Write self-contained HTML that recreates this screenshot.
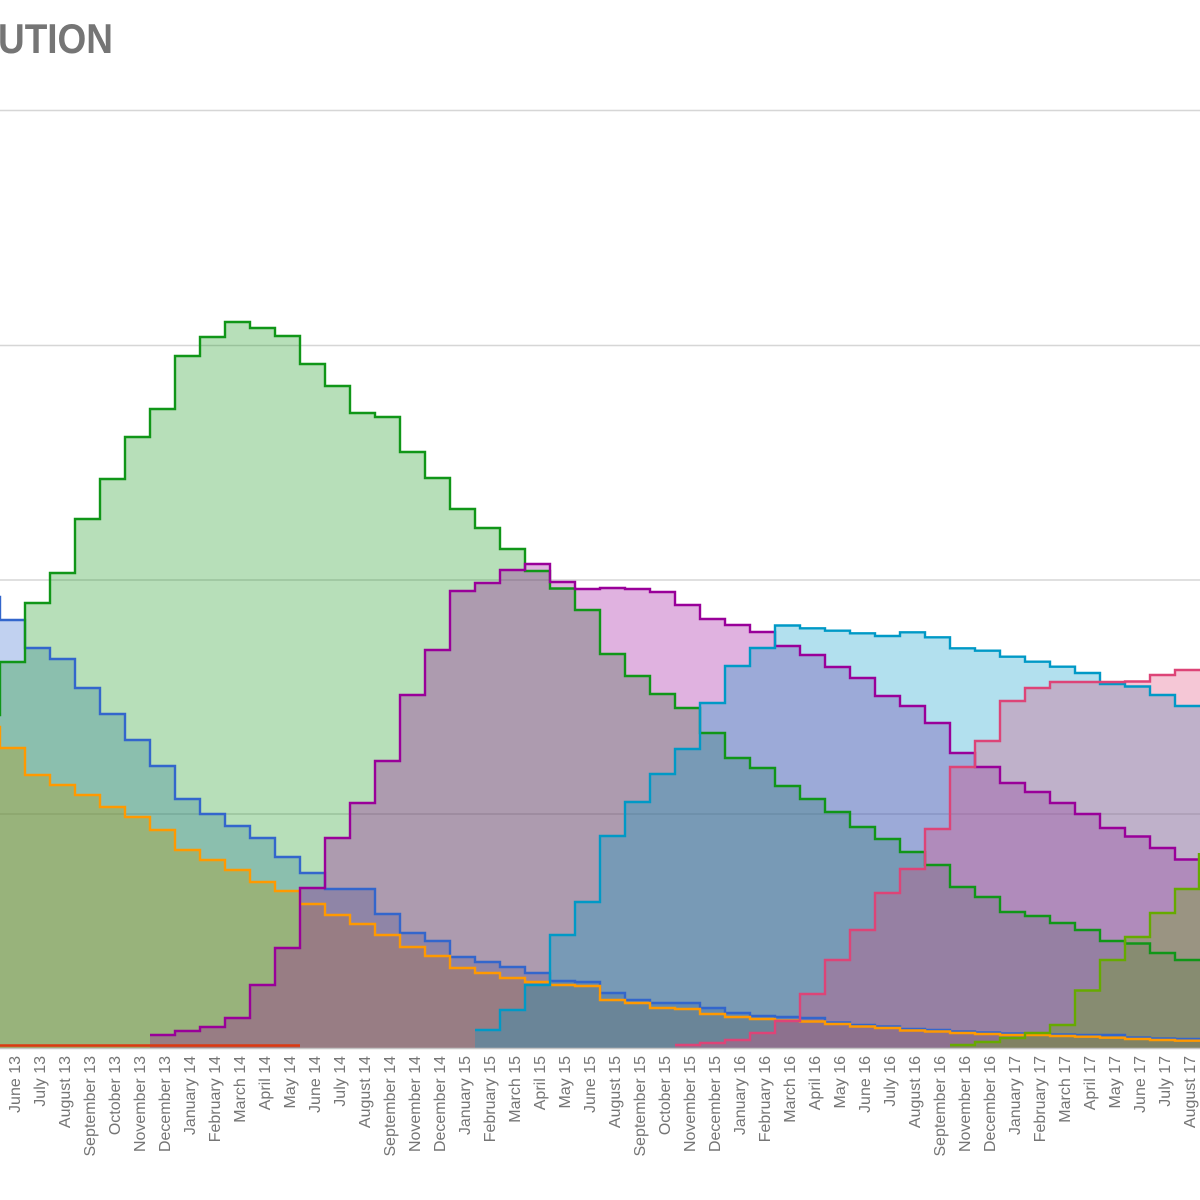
<!DOCTYPE html>
<html>
<head>
<meta charset="utf-8">
<style>
html,body{margin:0;padding:0;background:#fff;}
svg{display:block;}
</style>
</head>
<body>
<svg width="1200" height="1200" viewBox="0 0 1200 1200" xmlns="http://www.w3.org/2000/svg">
<rect x="0" y="0" width="1200" height="1200" fill="#ffffff"/>
<text x="-2" y="53" font-family="Liberation Sans, Arial, sans-serif" font-size="42" font-weight="bold" fill="#757575" textLength="115" lengthAdjust="spacingAndGlyphs">UTION</text>

<!-- gridlines -->
<g stroke="#d6d6d6" stroke-width="1.6">
<line x1="0" y1="110.5" x2="1200" y2="110.5"/>
<line x1="0" y1="345.5" x2="1200" y2="345.5"/>
<line x1="0" y1="580" x2="1200" y2="580"/>
<line x1="0" y1="814" x2="1200" y2="814"/>
</g>

<!-- fills -->
<g fill-opacity="0.3" stroke="none">
<path fill="#3366cc" d="M-25 1048V597H0V620H25V648H50V659H75V688H100V714H125V740H150V766H175V799H200V814H225V826H250V838H275V857H300V873H325V889H350V889H375V914H400V933H425V941H450V957H475V962H500V967H525V973H550V981H575V982H600V993H625V1000H650V1003H675V1003H700V1008H725V1013H750V1016H775V1017H800V1018H825V1022.5H850V1025H875V1026.5H900V1029H925V1030H950V1031.5H975V1032.5H1000V1033.5H1025V1033.5H1050V1034.5H1075V1035H1100V1035H1125V1037.5H1150V1038.5H1175V1039H1200V1048Z"/>
<path fill="#dc3912" d="M-25 1048V1045.5H300V1048Z"/>
<path fill="#ff9900" d="M-25 1048V727H0V748H25V775H50V785H75V795H100V807H125V817H150V830H175V850H200V860H225V870H250V882H275V891H300V904H325V915H350V924H375V935H400V947H425V956H450V968H475V973H500V978H525V982H550V985H575V986H600V1000H625V1003H650V1008H675V1009H700V1014H725V1017H750V1019H775V1020.5H800V1021.5H825V1024H850V1026.5H875V1028H900V1030.5H925V1031.5H950V1033H975V1034H1000V1035H1025V1035H1050V1036H1075V1036.7H1100V1037.7H1125V1039H1150V1040H1175V1040.7H1200V1048Z"/>
<path fill="#109618" d="M-25 1048V715H0V662H25V603H50V573H75V519H100V479H125V437H150V409H175V356H200V337H225V322H250V328H275V336H300V364H325V386H350V413H375V417H400V452H425V478H450V509H475V528H500V549H525V571H550V588.5H575V610H600V654H625V676H650V694H675V708H700V733H725V758H750V768H775V786H800V799H825V812H850V827H875V839H900V852H925V865H950V887H975V897H1000V912H1025V916H1050V923H1075V930H1100V941H1125V943.5H1150V953H1175V960H1200V1048Z"/>
<path fill="#990099" d="M150 1048V1035H175V1031H200V1027H225V1018H250V985H275V948H300V888H325V838H350V803H375V761H400V695H425V650H450V591H475V583H500V570H525V564H550V582H575V589H600V588H625V589H650V592H675V605H700V619H725V625H750V632H775V646H800V655H825V667H850V678H875V696H900V706H925V723H950V753H975V767H1000V783H1025V792H1050V803H1075V814H1100V828H1125V836.5H1150V848H1175V859.5H1200V1048Z"/>
<path fill="#0099c6" d="M475 1048V1030H500V1010H525V985H550V935H575V902H600V836H625V802H650V774H675V749H700V703H725V666H750V648H775V625.5H800V628.3H825V630.7H850V633.3H875V636H900V632.3H925V637.3H950V648.3H975V650.7H1000V656.7H1025V661.7H1050V666.7H1075V673H1100V684H1125V686.5H1150V695H1175V706H1200V1048Z"/>
<path fill="#dd4477" d="M675 1048V1045H700V1043H725V1040H750V1033H775V1021H800V994H825V960H850V930H875V893H900V869H925V829H950V767H975V741H1000V701H1025V688H1050V682H1075V682H1100V682H1125V681.5H1150V675H1175V670H1200V1048Z"/>
<path fill="#66aa00" d="M950 1048V1045H975V1042H1000V1038H1025V1033H1050V1025H1075V990.5H1100V960H1125V937H1150V913H1175V889H1200V1048Z"/>
</g>

<!-- baseline -->
<line x1="0" y1="1048.5" x2="1200" y2="1048.5" stroke="#c4c4c4" stroke-width="1.5"/>

<!-- lines -->
<g fill="none" stroke-width="2.4" stroke-linejoin="miter">
<path stroke="#3366cc" d="M-25 597H0V620H25V648H50V659H75V688H100V714H125V740H150V766H175V799H200V814H225V826H250V838H275V857H300V873H325V889H350V889H375V914H400V933H425V941H450V957H475V962H500V967H525V973H550V981H575V982H600V993H625V1000H650V1003H675V1003H700V1008H725V1013H750V1016H775V1017H800V1018H825V1022.5H850V1025H875V1026.5H900V1029H925V1030H950V1031.5H975V1032.5H1000V1033.5H1025V1033.5H1050V1034.5H1075V1035H1100V1035H1125V1037.5H1150V1038.5H1175V1039H1200"/>
<path stroke="#dc3912" d="M-25 1045.5H300"/>
<path stroke="#ff9900" d="M-25 727H0V748H25V775H50V785H75V795H100V807H125V817H150V830H175V850H200V860H225V870H250V882H275V891H300V904H325V915H350V924H375V935H400V947H425V956H450V968H475V973H500V978H525V982H550V985H575V986H600V1000H625V1003H650V1008H675V1009H700V1014H725V1017H750V1019H775V1020.5H800V1021.5H825V1024H850V1026.5H875V1028H900V1030.5H925V1031.5H950V1033H975V1034H1000V1035H1025V1035H1050V1036H1075V1036.7H1100V1037.7H1125V1039H1150V1040H1175V1040.7H1200"/>
<path stroke="#109618" d="M-25 715H0V662H25V603H50V573H75V519H100V479H125V437H150V409H175V356H200V337H225V322H250V328H275V336H300V364H325V386H350V413H375V417H400V452H425V478H450V509H475V528H500V549H525V571H550V588.5H575V610H600V654H625V676H650V694H675V708H700V733H725V758H750V768H775V786H800V799H825V812H850V827H875V839H900V852H925V865H950V887H975V897H1000V912H1025V916H1050V923H1075V930H1100V941H1125V943.5H1150V953H1175V960H1200"/>
<path stroke="#990099" d="M150 1035H175V1031H200V1027H225V1018H250V985H275V948H300V888H325V838H350V803H375V761H400V695H425V650H450V591H475V583H500V570H525V564H550V582H575V589H600V588H625V589H650V592H675V605H700V619H725V625H750V632H775V646H800V655H825V667H850V678H875V696H900V706H925V723H950V753H975V767H1000V783H1025V792H1050V803H1075V814H1100V828H1125V836.5H1150V848H1175V859.5H1200"/>
<path stroke="#0099c6" d="M475 1030H500V1010H525V985H550V935H575V902H600V836H625V802H650V774H675V749H700V703H725V666H750V648H775V625.5H800V628.3H825V630.7H850V633.3H875V636H900V632.3H925V637.3H950V648.3H975V650.7H1000V656.7H1025V661.7H1050V666.7H1075V673H1100V684H1125V686.5H1150V695H1175V706H1200"/>
<path stroke="#dd4477" d="M675 1045H700V1043H725V1040H750V1033H775V1021H800V994H825V960H850V930H875V893H900V869H925V829H950V767H975V741H1000V701H1025V688H1050V682H1075V682H1100V682H1125V681.5H1150V675H1175V670H1200"/>
<path stroke="#66aa00" d="M950 1045H975V1042H1000V1038H1025V1033H1050V1025H1075V990.5H1100V960H1125V937H1150V913H1175V889H1199V853"/>
</g>

<!-- x-axis labels -->
<g font-family="Liberation Sans, Arial, sans-serif" font-size="16" fill="#757575" text-anchor="end">
<text transform="translate(20 1056) rotate(-90)">June 13</text>
<text transform="translate(45 1056) rotate(-90)">July 13</text>
<text transform="translate(70 1056) rotate(-90)">August 13</text>
<text transform="translate(95 1056) rotate(-90)">September 13</text>
<text transform="translate(120 1056) rotate(-90)">October 13</text>
<text transform="translate(145 1056) rotate(-90)">November 13</text>
<text transform="translate(170 1056) rotate(-90)">December 13</text>
<text transform="translate(195 1056) rotate(-90)">January 14</text>
<text transform="translate(220 1056) rotate(-90)">February 14</text>
<text transform="translate(245 1056) rotate(-90)">March 14</text>
<text transform="translate(270 1056) rotate(-90)">April 14</text>
<text transform="translate(295 1056) rotate(-90)">May 14</text>
<text transform="translate(320 1056) rotate(-90)">June 14</text>
<text transform="translate(345 1056) rotate(-90)">July 14</text>
<text transform="translate(370 1056) rotate(-90)">August 14</text>
<text transform="translate(395 1056) rotate(-90)">September 14</text>
<text transform="translate(420 1056) rotate(-90)">November 14</text>
<text transform="translate(445 1056) rotate(-90)">December 14</text>
<text transform="translate(470 1056) rotate(-90)">January 15</text>
<text transform="translate(495 1056) rotate(-90)">February 15</text>
<text transform="translate(520 1056) rotate(-90)">March 15</text>
<text transform="translate(545 1056) rotate(-90)">April 15</text>
<text transform="translate(570 1056) rotate(-90)">May 15</text>
<text transform="translate(595 1056) rotate(-90)">June 15</text>
<text transform="translate(620 1056) rotate(-90)">August 15</text>
<text transform="translate(645 1056) rotate(-90)">September 15</text>
<text transform="translate(670 1056) rotate(-90)">October 15</text>
<text transform="translate(695 1056) rotate(-90)">November 15</text>
<text transform="translate(720 1056) rotate(-90)">December 15</text>
<text transform="translate(745 1056) rotate(-90)">January 16</text>
<text transform="translate(770 1056) rotate(-90)">February 16</text>
<text transform="translate(795 1056) rotate(-90)">March 16</text>
<text transform="translate(820 1056) rotate(-90)">April 16</text>
<text transform="translate(845 1056) rotate(-90)">May 16</text>
<text transform="translate(870 1056) rotate(-90)">June 16</text>
<text transform="translate(895 1056) rotate(-90)">July 16</text>
<text transform="translate(920 1056) rotate(-90)">August 16</text>
<text transform="translate(945 1056) rotate(-90)">September 16</text>
<text transform="translate(970 1056) rotate(-90)">November 16</text>
<text transform="translate(995 1056) rotate(-90)">December 16</text>
<text transform="translate(1020 1056) rotate(-90)">January 17</text>
<text transform="translate(1045 1056) rotate(-90)">February 17</text>
<text transform="translate(1070 1056) rotate(-90)">March 17</text>
<text transform="translate(1095 1056) rotate(-90)">April 17</text>
<text transform="translate(1120 1056) rotate(-90)">May 17</text>
<text transform="translate(1145 1056) rotate(-90)">June 17</text>
<text transform="translate(1170 1056) rotate(-90)">July 17</text>
<text transform="translate(1195 1056) rotate(-90)">August 17</text>
</g>
</svg>
</body>
</html>
